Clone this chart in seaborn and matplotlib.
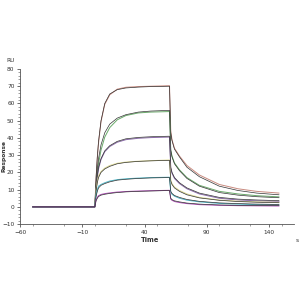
import numpy as np
import pandas as pd
import seaborn as sns
import matplotlib.pyplot as plt
from matplotlib.ticker import MultipleLocator

# sample times (s)
base_t = [-50, 0]
assoc_t = [0, 1, 2, 3, 5, 8, 12, 18, 25, 35, 45, 60]
dissoc_t = [60, 61, 62, 64, 68, 74, 84, 100, 115, 130, 148]

# fitted (black) curves, association then dissociation
fit_assoc = [
    [0, 17, 29, 38, 50, 60, 65.5, 68, 69, 69.5, 69.8, 70],
    [0, 13, 22, 28, 36, 43, 48, 51.5, 53.5, 55, 55.6, 56],
    [0, 11, 18, 23, 28, 32.5, 35.5, 38, 39.5, 40.3, 40.7, 41],
    [0, 9, 14, 17, 20, 22, 23.5, 25, 25.8, 26.4, 26.7, 27],
    [0, 6, 9, 11, 12.5, 13.5, 14.5, 15.5, 16, 16.5, 16.8, 17],
    [0, 3.5, 5, 6, 6.8, 7.3, 7.8, 8.3, 8.7, 9.0, 9.2, 9.5],
]
fit_dissoc = [
    [70, 43, 38.5, 33.5, 29, 23, 17.5, 12, 9.5, 8, 7],
    [56, 33, 29, 25, 21, 16.5, 12, 8.3, 6.8, 5.9, 5.3],
    [41, 23, 20, 17, 14, 11, 8, 5.5, 4.5, 4, 3.6],
    [27, 15, 13, 11, 9, 7, 5.2, 3.8, 3.1, 2.7, 2.4],
    [17, 9, 7.8, 6.6, 5.5, 4.3, 3.2, 2.3, 1.9, 1.6, 1.4],
    [9.5, 5, 4.2, 3.5, 2.9, 2.2, 1.6, 1.1, 0.9, 0.8, 0.7],
]

# measured (coloured) curves
data_assoc = [
    [0, 16, 28, 37, 49.5, 59.5, 65, 68.3, 69.4, 69.8, 70, 70.3],
    [0, 11, 19, 25, 33, 40.5, 46, 50.5, 53, 54.5, 55, 55.3],
    [0, 10, 17, 22, 27.5, 32, 35, 37.5, 39, 39.8, 40.2, 40.5],
    [0, 10, 15, 18, 20.5, 22.5, 24, 25.3, 26, 26.5, 26.8, 27.2],
    [0, 7, 10, 12, 13, 14, 15, 15.8, 16.3, 16.7, 17, 17.2],
    [0, 4, 5.5, 6.5, 7.2, 7.7, 8.1, 8.6, 8.9, 9.2, 9.4, 9.6],
]
data_dissoc = [
    [70.3, 44, 39, 34, 29.5, 24, 18.5, 13, 10.5, 9, 8],
    [55.3, 33, 29.5, 25.5, 21.5, 17, 12.5, 9, 7.5, 6.5, 5.8],
    [40.5, 22.5, 19.5, 16.5, 13.5, 10.5, 7.5, 5, 4, 3.5, 3.2],
    [27.2, 15.5, 13.5, 11.5, 9.5, 7.5, 5.5, 4, 3.3, 2.9, 2.6],
    [17.2, 8.5, 7.3, 6.2, 5, 3.9, 2.9, 2, 1.6, 1.3, 1.1],
    [9.6, 4.5, 3.8, 3.1, 2.5, 1.9, 1.3, 0.9, 0.7, 0.6, 0.5],
]
data_colors = ["#c98b80", "#6aaa6a", "#8a6aa8", "#dcd890", "#50b8c8", "#b050b8"]

sns.set_theme(style="ticks")
plt.rcParams['font.family'] = ['DejaVu Sans']

fig = plt.figure(figsize=(3, 3), dpi=100)
ax = fig.add_axes([0.067, 0.253, 0.913, 0.517])

for i in range(len(fit_assoc)):
    t = base_t + assoc_t + dissoc_t
    yd = [0, 0] + data_assoc[i] + data_dissoc[i]
    yf = [0, 0] + fit_assoc[i] + fit_dissoc[i]
    sns.lineplot(x=t, y=yd, color=data_colors[i], lw=0.7, sort=False, ax=ax)
    sns.lineplot(x=t, y=yf, color="#333333", lw=0.5, sort=False, ax=ax)

ax.set_xlim(-60, 160)
ax.set_ylim(-10, 80)
ax.xaxis.set_minor_locator(MultipleLocator(25))
ax.set_xticks([-60, -10, 40, 90, 140])
ax.yaxis.set_major_locator(MultipleLocator(10))
ax.yaxis.set_minor_locator(MultipleLocator(2))
ax.tick_params(which='major', length=2.5, width=0.6, labelsize=4.2, pad=1.5, color="#555555", labelcolor="#333333")
ax.tick_params(which='minor', length=1.5, width=0.4, color="#555555")
for s in ['top', 'right']:
    ax.spines[s].set_visible(False)
for s in ['left', 'bottom']:
    ax.spines[s].set_linewidth(0.6)
    ax.spines[s].set_color("#555555")
ax.set_xlabel("")
ax.set_ylabel("")

fig.text(0.035, 0.797, "RU", fontsize=4.2, color="#333333", ha='center', va='center')
fig.text(0.012, 0.48, "Response", fontsize=4.2, color="#333333", rotation=90, ha='center', va='center', fontweight='bold')
fig.text(0.5, 0.2, "Time", fontsize=4.8, color="#333333", ha='center', va='center', fontweight='bold')
fig.text(0.99, 0.2, "s", fontsize=4.2, color="#333333", ha='center', va='center')

fig.savefig("out.png", dpi=100, facecolor="white")
